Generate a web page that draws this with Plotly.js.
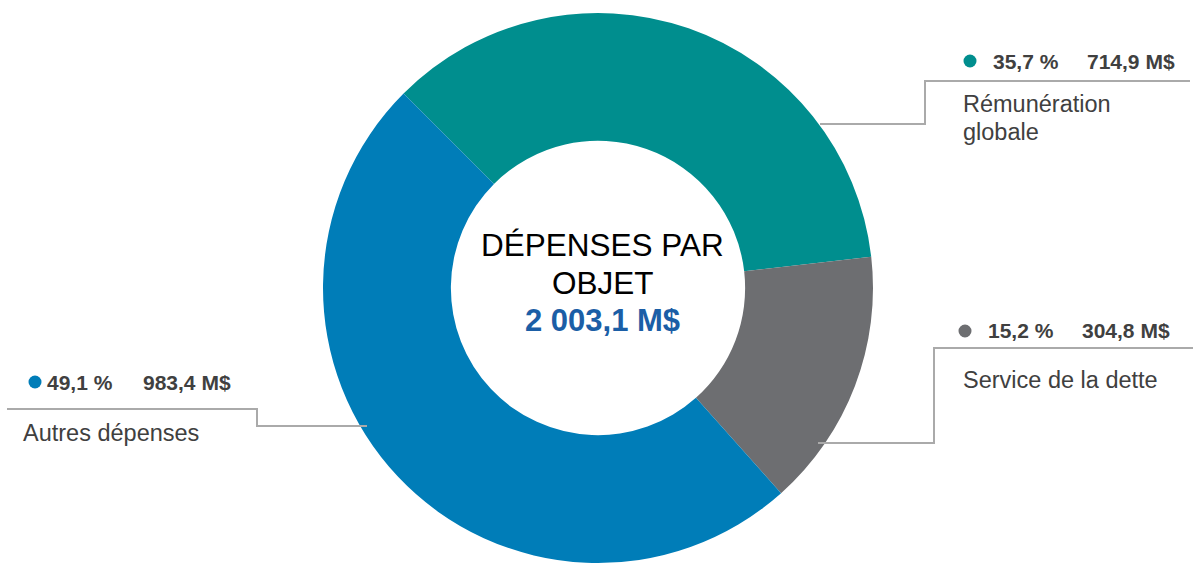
<!DOCTYPE html>
<html>
<head>
<meta charset="utf-8">
<script src="https://cdn.plot.ly/plotly-3.0.1.min.js"></script>
<style>html,body{margin:0;padding:0;background:#fff;}#chart{width:1193px;height:568px;}</style>
</head>
<body>
<div id="chart"></div>
<script>
// Data
const categories = ["Rémunération globale", "Service de la dette", "Autres dépenses"];
const labelLines = [["Rémunération", "globale"], ["Service de la dette"], ["Autres dépenses"]];
const values = [714.9, 304.8, 983.4];
const percentLabels = ["35,7 %", "15,2 %", "49,1 %"];
const amountLabels = ["714,9 M$", "304,8 M$", "983,4 M$"];
const centerTitle = ["DÉPENSES PAR", "OBJET"];
const centerTotal = "2 003,1 M$";
const colors = ["#008e8e", "#6d6e71", "#007db8"];

const W = 1193, H = 568;
const px = x => x / W;
const py = y => 1 - y / H;

// donut geometry (pixels)
const cx = 598, cy = 288, R = 275;

const lineColor = "#aaaaaa";
const textColor = "#404040";
const FONT = "Liberation Sans, Arial, sans-serif";

// label layout (pixel positions)
const labelPos = [
  {dot: [970, 61], pct: 991, amt: 1085, name: [961, 104], lineSpacing: 28,
   path: [[820, 124], [925, 124], [925, 81], [1190, 81]]},
  {dot: [965, 331], pct: 986, amt: 1080, name: [961, 380], lineSpacing: 28,
   path: [[818, 443], [934, 443], [934, 348], [1193, 348]]},
  {dot: [35, 382], pct: 45, amt: 141, name: [21, 433], lineSpacing: 28,
   path: [[367, 426], [257, 426], [257, 409], [7, 409]]}
];

const annotations = [];
const shapes = [];

labelPos.forEach((p, i) => {
  annotations.push({xref: "paper", yref: "paper", x: px(p.pct), y: py(p.dot[1]), xanchor: "left", yanchor: "middle",
    text: "<b>" + percentLabels[i] + "</b>", showarrow: false,
    font: {family: FONT, size: 21, color: textColor}});
  annotations.push({xref: "paper", yref: "paper", x: px(p.amt), y: py(p.dot[1]), xanchor: "left", yanchor: "middle",
    text: "<b>" + amountLabels[i] + "</b>", showarrow: false,
    font: {family: FONT, size: 21, color: textColor}});
  labelLines[i].forEach((ln, k) => {
    annotations.push({xref: "paper", yref: "paper", x: px(p.name[0]), y: py(p.name[1] + k * p.lineSpacing), xanchor: "left", yanchor: "middle",
      text: ln, showarrow: false,
      font: {family: FONT, size: 23.5, color: textColor}});
  });
  const r = 6.5;
  shapes.push({type: "circle", xref: "paper", yref: "paper",
    x0: px(p.dot[0] - r), x1: px(p.dot[0] + r), y0: py(p.dot[1] + r), y1: py(p.dot[1] - r),
    fillcolor: colors[i], line: {width: 0}});
  const d = "M " + p.path.map(q => px(q[0]) + "," + py(q[1])).join(" L ");
  shapes.push({type: "path", xref: "paper", yref: "paper", path: d, line: {color: lineColor, width: 2}});
});

// center text
centerTitle.forEach((t, k) => {
  annotations.push({xref: "paper", yref: "paper", x: px(603), y: py(245 + k * 37.5), xanchor: "center", yanchor: "middle",
    text: t, showarrow: false, font: {family: FONT, size: 31.5, color: "#000"}});
});
annotations.push({xref: "paper", yref: "paper", x: px(603), y: py(320), xanchor: "center", yanchor: "middle",
  text: "<b>" + centerTotal + "</b>", showarrow: false, font: {family: FONT, size: 31, color: "#1b5ea6"}});

const trace = {
  type: "pie",
  labels: categories,
  values: values,
  marker: {colors: colors, line: {width: 0}},
  hole: 0.535,
  sort: false,
  direction: "clockwise",
  rotation: -45,
  textinfo: "none",
  hoverinfo: "label+value+percent",
  showlegend: false,
  domain: {x: [px(cx - R), px(cx + R)], y: [py(cy + R), py(cy - R)]}
};

Plotly.newPlot("chart", [trace], {
  width: W, height: H,
  margin: {l: 0, r: 0, t: 0, b: 0},
  paper_bgcolor: "#fff",
  showlegend: false,
  annotations: annotations,
  shapes: shapes
}, {displayModeBar: false, staticPlot: true});
</script>
</body>
</html>
